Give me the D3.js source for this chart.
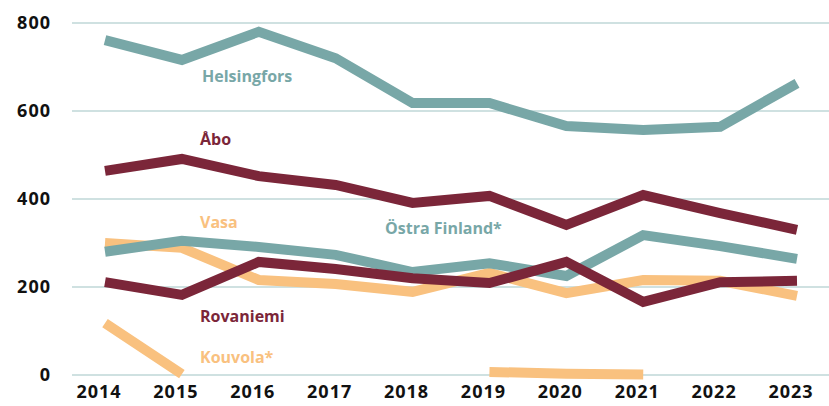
<!DOCTYPE html>
<html>
<meta charset="utf-8">
<style>
body { margin: 0; background: #fff; }
.grid line { stroke: #cfe1e1; stroke-width: 2; }
.tick-label { font: bold 18px "Open Sans", sans-serif; fill: #111; letter-spacing: 1px; }
path.series { fill: none; stroke-width: 10; stroke-linejoin: miter; }
.name { font: bold 16px "Open Sans", sans-serif; }
</style>
<body>
<div id="chart"></div>
<script src="https://cdnjs.cloudflare.com/ajax/libs/d3/7.8.5/d3.min.js"></script>
<script>

var years = [2014, 2015, 2016, 2017, 2018, 2019, 2020, 2021, 2022, 2023];
var yTicks = [0, 200, 400, 600, 800];

var helsingfors = [761, 716, 780, 720, 618, 618, 566, 557, 564, 663];
var abo         = [464, 491, 452, 432, 391, 407, 341, 409, 368, 330];
var ostra       = [280, 305, 291, 273, 234, 254, 225, 318, 293, 264];
var vasa        = [300, 289, 216, 207, 189, 232, 186, 216, 214, 180];
var rovaniemi   = [211, 182, 257, 241, 220, 209, 257, 166, 211, 214];
var kouvola     = [118, 2, null, null, null, 7, 3, 1, null, null];

var teal = "#78a7a7", maroon = "#7b2639", orange = "#f9c17f";

var series = [
  {name: "Kouvola*", values: kouvola, color: orange, lx: 200, ly: 357},
  {name: "Vasa", values: vasa, color: orange, lx: 200, ly: 222},
  {name: "Östra Finland*", values: ostra, color: teal, lx: 385, ly: 228},
  {name: "Helsingfors", values: helsingfors, color: teal, lx: 202, ly: 76},
  {name: "Rovaniemi", values: rovaniemi, color: maroon, lx: 200, ly: 316},
  {name: "Åbo", values: abo, color: maroon, lx: 200, ly: 139}
];

var width = 829, height = 406;

var x = d3.scaleLinear()
    .domain([2014, 2023])
    .range([105, 797]);

var y = d3.scaleLinear()
    .domain([0, 800])
    .range([375, 23]);

var svg = d3.select("#chart").append("svg")
    .attr("width", width)
    .attr("height", height);

svg.append("g")
    .attr("class", "grid")
    .selectAll("line")
    .data(yTicks)
    .enter().append("line")
    .attr("x1", 72)
    .attr("x2", width)
    .attr("y1", function(d) { return y(d); })
    .attr("y2", function(d) { return y(d); });

svg.append("g")
    .selectAll("text")
    .data(yTicks)
    .enter().append("text")
    .attr("class", "tick-label")
    .attr("x", 51)
    .attr("y", function(d) { return y(d); })
    .attr("dy", "0.35em")
    .attr("text-anchor", "end")
    .text(function(d) { return d; });

svg.append("g")
    .selectAll("text")
    .data(years)
    .enter().append("text")
    .attr("class", "tick-label")
    .attr("x", function(d) { return x(d) - 6; })
    .attr("y", 392)
    .attr("dy", "0.35em")
    .attr("text-anchor", "middle")
    .text(function(d) { return d; });

var line = d3.line()
    .defined(function(d) { return d != null; })
    .x(function(d, i) { return x(years[i]); })
    .y(function(d) { return y(d); });

svg.append("g")
    .selectAll("path")
    .data(series)
    .enter().append("path")
    .attr("class", "series")
    .attr("stroke", function(d) { return d.color; })
    .attr("d", function(d) { return line(d.values); });

svg.append("g")
    .selectAll("text")
    .data(series)
    .enter().append("text")
    .attr("class", "name")
    .attr("x", function(d) { return d.lx; })
    .attr("y", function(d) { return d.ly; })
    .attr("dy", "0.35em")
    .attr("fill", function(d) { return d.color; })
    .text(function(d) { return d.name; });

</script>
</body>
</html>
